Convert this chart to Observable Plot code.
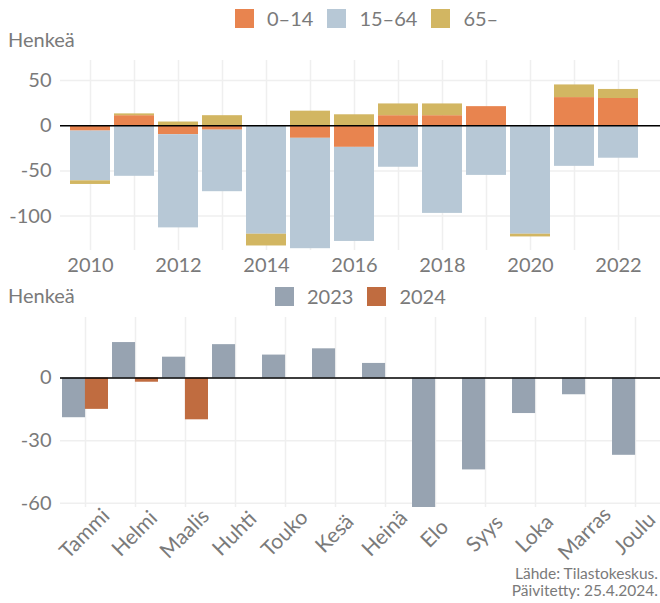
<!DOCTYPE html>
<html><head><meta charset="utf-8">
<script src="https://cdn.jsdelivr.net/npm/d3@7"></script>
<script src="https://cdn.jsdelivr.net/npm/@observablehq/plot@0.6"></script>
<style>
body{margin:0;width:660px;height:603px;position:relative;font-family:Lato,sans-serif;color:#7a7a7a;background:#fff;overflow:hidden}
.abs{position:absolute}
.legend{display:flex;align-items:center;font-size:20px;line-height:20px}
.item{display:flex;align-items:center;margin-right:14px}
.sw{display:inline-block;margin-right:13px}
.lbl{font-size:20px;line-height:20px}
</style></head><body>
<div id="leg1" class="abs legend" style="left:235px;top:8px"></div>
<div class="abs lbl" style="left:8px;top:29px">Henkeä</div>
<div id="c1" class="abs" style="left:0;top:50px"></div>
<div class="abs lbl" style="left:8px;top:285px">Henkeä</div>
<div id="leg2" class="abs legend" style="left:275px;top:286px"></div>
<div id="c2" class="abs" style="left:0;top:310px"></div>
<div class="abs" style="right:2px;top:565px;font-size:15.5px;line-height:17px;text-align:right">Lähde: Tilastokeskus.<br>Päivitetty: 25.4.2024.</div>
<script>
// ---- Data: top chart (annual change by age group) ----
const years = [2010, 2011, 2012, 2013, 2014, 2015, 2016, 2017, 2018, 2019, 2020, 2021, 2022];
const groups = ["0–14", "15–64", "65–"];
const age0_14  = [-6, 11, -10, -5, 0, -14, -24, 11, 11, 21, 0, 31, 30];
const age15_64 = [-55, -56, -103, -68, -120, -122, -104, -46, -97, -55, -120, -45, -36];
const age65    = [-4, 2, 4, 11, -13, 16, 12, 13, 13, 0, -3, 14, 10];
const groupColors = ["#E8844F", "#B7C8D6", "#D2B662"];
const topTicks = [-100, -50, 0, 50];

// ---- Data: bottom chart (monthly change) ----
const months = ["Tammi", "Helmi", "Maalis", "Huhti", "Touko", "Kesä", "Heinä", "Elo", "Syys", "Loka", "Marras", "Joulu"];
const v2023 = [-19, 17, 10, 16, 11, 14, 7, -62, -44, -17, -8, -37];
const v2024 = [-15, -2, -20];
const yearLabels = ["2023", "2024"];
const yearColors = ["#97A3B1", "#C06C40"];
const bottomTicks = [-60, -30, 0];

const series = [age0_14, age15_64, age65];
const rows = [];
years.forEach((y, i) => groups.forEach((g, j) => rows.push({year: y, group: g, value: series[j][i]})));

function legend(el, labels, colors, sw) {
  const root = document.getElementById(el);
  labels.forEach((l, i) => {
    const it = document.createElement("div"); it.className = "item";
    const s = document.createElement("span"); s.className = "sw";
    s.style.width = sw + "px"; s.style.height = sw + "px"; s.style.background = colors[i];
    const t = document.createElement("span"); t.textContent = l;
    it.append(s, t); root.append(it);
  });
}
legend("leg1", groups, groupColors, 19);
legend("leg2", yearLabels, yearColors, 19);

const grid = "#efefef";
const baseStyle = {fontFamily: "Lato, sans-serif", fontSize: "20px", color: "#7a7a7a", background: "transparent", overflow: "visible"};

const topChart = Plot.plot({
  width: 660, height: 232,
  marginLeft: 60, marginRight: 0, marginTop: 10, marginBottom: 32,
  style: baseStyle,
  x: {type: "band", domain: years, paddingInner: 0.08, paddingOuter: 0.04, insetLeft: 4.7, insetRight: 15.7,
      tickSize: 0, tickPadding: 7, label: null, tickFormat: d => d % 2 === 0 ? String(d) : ""},
  y: {domain: [-138, 72], ticks: topTicks, tickSize: 0, tickPadding: 9, label: null, tickFormat: d => String(d)},
  color: {domain: groups, range: groupColors},
  marks: [
    Plot.ruleX(years, {x: d => d, stroke: grid, strokeWidth: 1.5}),
    Plot.ruleY(topTicks, {stroke: grid, strokeWidth: 1.5}),
    Plot.barY(rows, Plot.stackY({x: "year", y: "value", fill: "group", z: "group"})),
    Plot.ruleY([0], {stroke: "black", strokeWidth: 1.5})
  ]
});
document.getElementById("c1").append(topChart);

const bRows2023 = months.map((m, i) => ({month: m, value: v2023[i]}));
const bRows2024 = v2024.map((v, i) => ({month: months[i], value: v}));
const W = 660, mL = 60, mR = 0, pIn = 0.09;
const half = ((W - mL - mR) / (months.length - pIn)) * (1 - pIn) / 2;

const bottomChart = Plot.plot({
  width: W, height: 252,
  marginLeft: mL, marginRight: mR, marginTop: 7, marginBottom: 55,
  style: baseStyle,
  x: {type: "band", domain: months, paddingInner: pIn, paddingOuter: 0, axis: null},
  y: {domain: [-62, 29], ticks: bottomTicks, tickSize: 0, tickPadding: 9, label: null, tickFormat: d => String(d)},
  marks: [
    Plot.ruleX(months, {x: d => d, stroke: grid, strokeWidth: 1.5}),
    Plot.ruleY(bottomTicks, {stroke: grid, strokeWidth: 1.5}),
    Plot.barY(bRows2023, {x: "month", y: "value", fill: yearColors[0], insetRight: half}),
    Plot.barY(bRows2024, {x: "month", y: "value", fill: yearColors[1], insetLeft: half}),
    Plot.ruleY([0], {stroke: "black", strokeWidth: 1.5}),
    Plot.text(months, {x: d => d, frameAnchor: "bottom", text: d => d, rotate: -45, textAnchor: "middle",
      dx: 4, dy: 31, fontSize: 21, fill: "#7a7a7a"})
  ]
});
document.getElementById("c2").append(bottomChart);
</script>
</body></html>
